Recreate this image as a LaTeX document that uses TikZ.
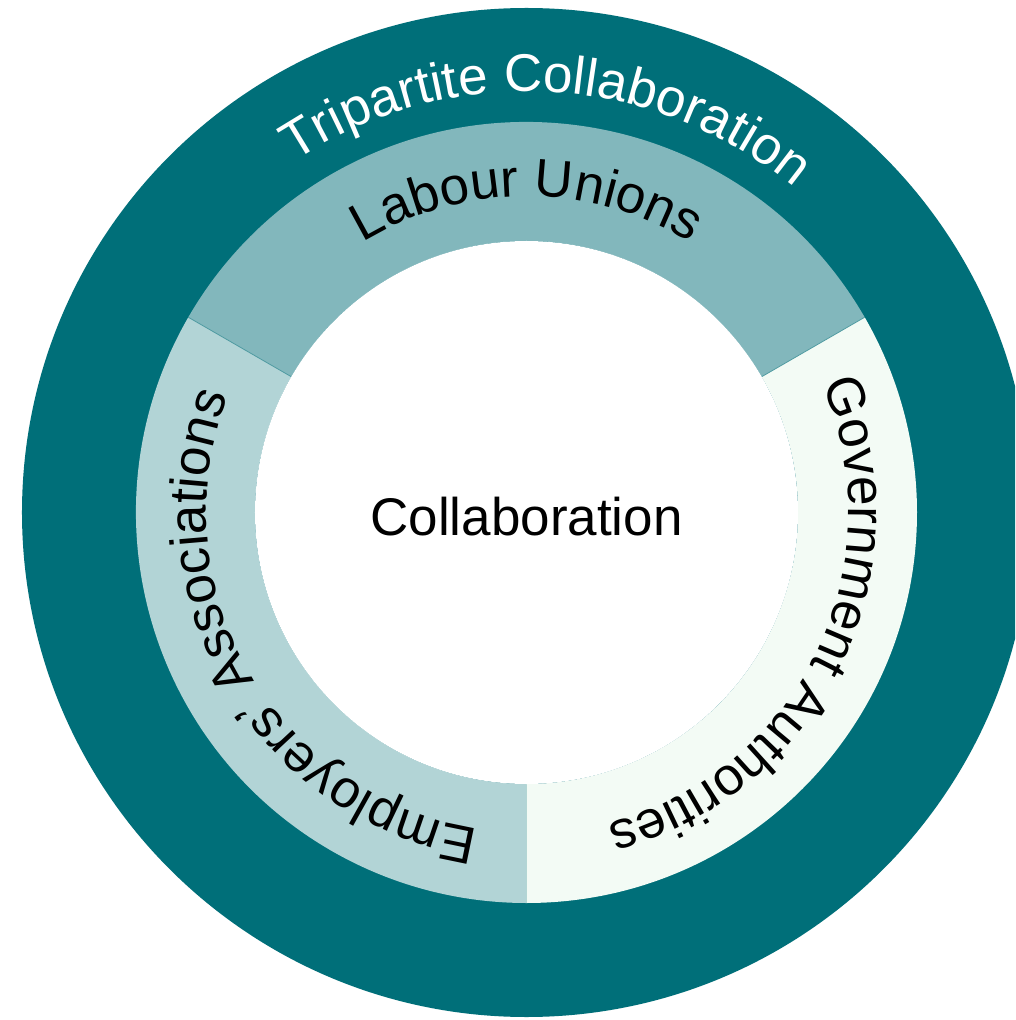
\documentclass[tikz,border=0pt]{standalone}
\usepackage{fontspec}
\setmainfont{Liberation Sans}
\usetikzlibrary{decorations.text}
\definecolor{darkteal}{RGB}{0,111,121}
\definecolor{labourc}{RGB}{130,183,188}
\definecolor{employc}{RGB}{178,212,214}
\definecolor{govtc}{RGB}{243,251,245}
\definecolor{seamc}{RGB}{80,155,162}
\newcommand\lblfont{\fontsize{53}{60}\selectfont}
\begin{document}
\begin{tikzpicture}[x=1pt,y=1pt,
  arclabel/.style={decorate, decoration={text along path, text align=center, text={|\lblfont|#1}}},
  seam/.style={draw=seamc, line width=0.8pt}]
\useasboundingbox (-526.5,-507.5) rectangle (488.5,512.5);
\clip (-526.5,-507.5) rectangle (488.5,512.5);
\fill[white] (-526.5,-507.5) rectangle (488.5,512.5);
% outer ring
\fill[darkteal] (0,0) circle[radius=504.5pt];
% sectors
\fill[labourc] (30:390.5pt) arc[start angle=30, end angle=150, radius=390.5pt]
  -- (150:271.5pt) arc[start angle=150, end angle=30, radius=271.5pt] -- cycle;
\fill[employc] (150:390.5pt) arc[start angle=150, end angle=270, radius=390.5pt]
  -- (270:271.5pt) arc[start angle=270, end angle=150, radius=271.5pt] -- cycle;
\fill[govtc] (-90:390.5pt) arc[start angle=-90, end angle=30, radius=390.5pt]
  -- (30:271.5pt) arc[start angle=30, end angle=-90, radius=271.5pt] -- cycle;
\path[seam] (150:271.5pt) -- (150:390.5pt);
\path[seam] (30:271.5pt) -- (30:390.5pt);
% centre
\fill[white] (0,0) circle[radius=271.5pt];
\node[anchor=base, inner sep=0pt, font=\lblfont] (collab) at (0,-22.5) {Collaboration};
% curved labels
\path[decorate, decoration={text along path, text align=center, text color=white,
  text={|\lblfont|Tripartite Collaboration}}]
  (177:421pt) arc[start angle=177, end angle=-3, radius=421pt];
\path[arclabel={Labour Unions}]
  (150:316pt) arc[start angle=150, end angle=30, radius=316pt];
\path[arclabel={Government Authorities}]
  (34:322pt) arc[start angle=34, end angle=-86, radius=322pt];
\path[arclabel={Employers’ Associations}]
  (270:320pt) arc[start angle=270, end angle=150, radius=320pt];
\end{tikzpicture}
\end{document}
